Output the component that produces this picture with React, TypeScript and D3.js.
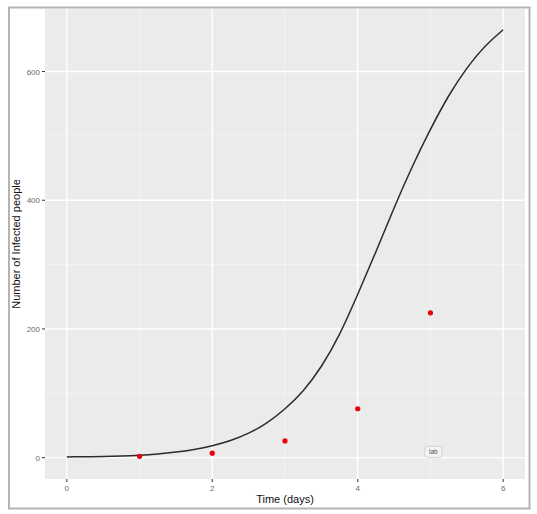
import React, { useMemo } from 'react';
import { scaleLinear, line as d3Line, curveNatural } from 'd3';

// model curve
const curveT = [0, 0.25, 0.5, 0.75, 1, 1.25, 1.5, 1.75, 2, 2.25, 2.5, 2.75, 3, 3.25, 3.5, 3.75, 4, 4.25, 4.5, 4.75, 5, 5.25, 5.5, 5.75, 6];
const curveY = [1, 1.4, 1.9, 2.7, 3.9, 5.8, 8.7, 12.8, 18.5, 26.5, 38, 54, 76, 104, 142, 192, 254, 320, 388, 452, 510, 562, 605, 639, 665];

// observed points
const obsT = [1, 2, 3, 4, 5];
const obsY = [2, 7, 26, 76, 225];

const xTicks = [0, 2, 4, 6];
const xMinor = [1, 3, 5];
const yTicks = [0, 200, 400, 600];
const yMinor = [100, 300, 500];

const labelX = 5.04;
const labelY = 9;
const labelText = 'lab';

const W = 537;
const H = 514;
const panel = { left: 45, right: 525, top: 9, bottom: 479 };
const FONT = '"Liberation Sans", Arial, sans-serif';

export default function App() {
  const x = useMemo(() => scaleLinear().domain([-0.3, 6.3]).range([panel.left, panel.right]), []);
  const y = useMemo(() => scaleLinear().domain([-33.2, 697.2]).range([panel.bottom, panel.top]), []);

  const pts = curveT.map((t, i) => ({ t, v: curveY[i] }));
  const path = d3Line<{ t: number; v: number }>()
    .x(d => x(d.t))
    .y(d => y(d.v))
    .curve(curveNatural)(pts) || '';

  const pw = panel.right - panel.left;
  const ph = panel.bottom - panel.top;

  return (
    <svg
      width={W}
      height={H}
      style={{ position: 'absolute', left: 0, top: 0, display: 'block', fontFamily: FONT }}
    >
      <rect x={0} y={0} width={W} height={H} fill="#fff" />
      {/* outer frame */}
      <rect x={9} y={7.5} width={520.5} height={501} fill="#fff" stroke="#b4b4b4" strokeWidth={2} />

      {/* panel */}
      <rect x={panel.left} y={panel.top} width={pw} height={ph} fill="#ebebeb" />
      {xMinor.map(t => (
        <line key={'xm' + t} x1={x(t)} x2={x(t)} y1={panel.top} y2={panel.bottom} stroke="#f5f5f5" strokeWidth={0.8} />
      ))}
      {yMinor.map(v => (
        <line key={'ym' + v} x1={panel.left} x2={panel.right} y1={y(v)} y2={y(v)} stroke="#f5f5f5" strokeWidth={0.8} />
      ))}
      {xTicks.map(t => (
        <line key={'xg' + t} x1={x(t)} x2={x(t)} y1={panel.top} y2={panel.bottom} stroke="#fff" strokeWidth={1.4} />
      ))}
      {yTicks.map(v => (
        <line key={'yg' + v} x1={panel.left} x2={panel.right} y1={y(v)} y2={y(v)} stroke="#fff" strokeWidth={1.4} />
      ))}

      {/* model curve */}
      <path d={path} fill="none" stroke="#2b2b2b" strokeWidth={1.5} strokeLinejoin="round" />

      {/* observations */}
      {obsT.map((t, i) => (
        <circle key={'p' + t} cx={x(t)} cy={y(obsY[i])} r={2.6} fill="#e8000b" />
      ))}

      {/* label */}
      <g transform={`translate(${x(labelX)},${y(labelY)})`}>
        <rect x={-8.5} y={-5.5} width={17} height={11} rx={2.5} fill="#f4f4f4" stroke="#cfcfcf" strokeWidth={0.9} />
        <text x={0} y={2.5} textAnchor="middle" fontSize={6.5} fill="#555">{labelText}</text>
      </g>

      {/* axes ticks + labels */}
      {xTicks.map(t => (
        <g key={'xt' + t}>
          <line x1={x(t)} x2={x(t)} y1={panel.bottom} y2={panel.bottom + 3} stroke="#333" strokeWidth={1} />
          <text x={x(t)} y={panel.bottom + 12} textAnchor="middle" fontSize={8} fill="#6a6a6a">{t}</text>
        </g>
      ))}
      {yTicks.map(v => (
        <g key={'yt' + v}>
          <line x1={panel.left - 3} x2={panel.left} y1={y(v)} y2={y(v)} stroke="#333" strokeWidth={1} />
          <text x={panel.left - 5} y={y(v) + 3} textAnchor="end" fontSize={8} fill="#6a6a6a">{v}</text>
        </g>
      ))}

      <text x={(panel.left + panel.right) / 2} y={503} textAnchor="middle" fontSize={11} fill="#111">Time (days)</text>
      <text
        transform={`translate(20,${(panel.top + panel.bottom) / 2}) rotate(-90)`}
        textAnchor="middle"
        fontSize={11}
        fill="#111"
      >
        Number of Infected people
      </text>
    </svg>
  );
}
